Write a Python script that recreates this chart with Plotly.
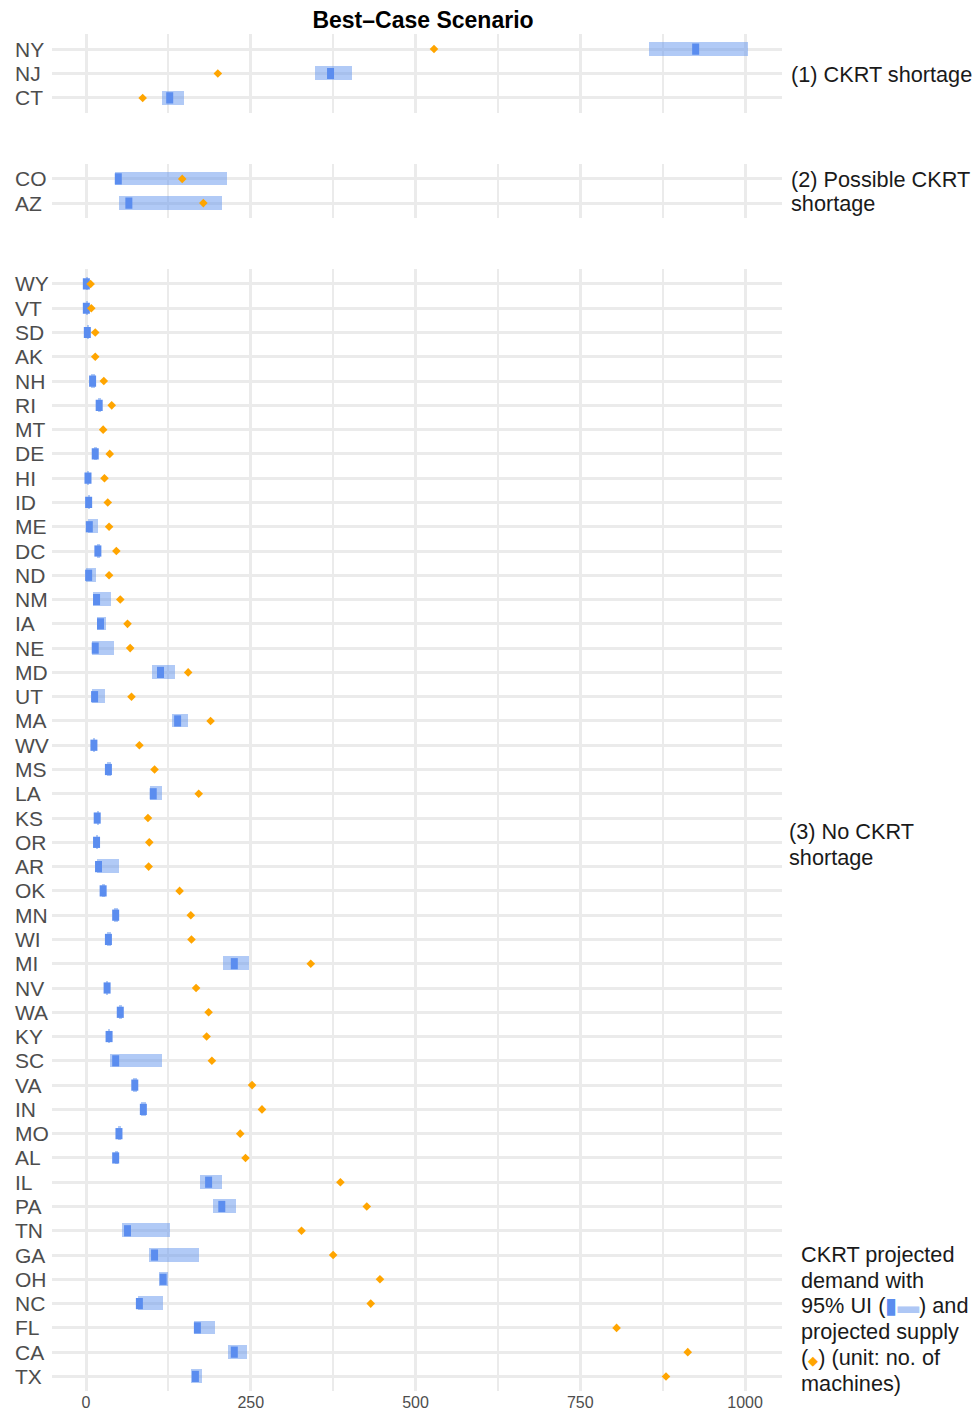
import plotly.graph_objects as go

# ---------------- data ----------------
p1_states = ["NY", "NJ", "CT"]
p1_median = [925, 371, 127]
p1_lower = [854, 347, 115]
p1_upper = [1005, 404, 149]
p1_supply = [528, 200, 86]

p2_states = ["CO", "AZ"]
p2_median = [49, 65]
p2_lower = [44, 50]
p2_upper = [214, 207]
p2_supply = [146, 178]

p3_states = ["WY", "VT", "SD", "AK", "NH", "RI", "MT", "DE", "HI", "ID", "ME", "DC",
             "ND", "NM", "IA", "NE", "MD", "UT", "MA", "WV", "MS", "LA", "KS", "OR",
             "AR", "OK", "MN", "WI", "MI", "NV", "WA", "KY", "SC", "VA", "IN", "MO",
             "AL", "IL", "PA", "TN", "GA", "OH", "NC", "FL", "CA", "TX"]
p3_median = [0.5, 0.5, 2, None, 10, 20, None, 14, 3, 4, 5, 18,
             4, 16, 22, 14, 113, 13, 139, 12, 34, 102, 17, 16,
             19, 26, 45, 34, 225, 32, 52, 35, 45, 74, 87, 50,
             45, 186, 206, 63, 104, 117, 81, 169, 225, 166]
p3_lower = [0, 0, 1, None, 8, 18, None, 12, 2, 3, 3, 16,
            0, 11, 17, 9, 100, 9, 131, 11, 32, 97, 16, 15,
            16, 25, 43, 32, 208, 31, 50, 33, 37, 71, 84, 48,
            44, 173, 193, 54, 96, 110, 79, 164, 216, 160]
p3_upper = [3, 3, 4, None, 13, 23, None, 17, 5, 6, 18, 21,
            15, 38, 30, 43, 135, 29, 154, 14, 38, 115, 19, 18,
            50, 29, 48, 38, 247, 34, 55, 37, 115, 78, 91, 53,
            48, 207, 227, 128, 171, 124, 117, 195, 245, 176]
p3_supply = [7, 8, 14, 14, 27, 39, 26, 36, 28, 33, 35, 46,
             35, 52, 63, 67, 155, 69, 189, 81, 104, 171, 94, 96,
             95, 142, 159, 160, 341, 167, 186, 183, 191, 252, 267, 234,
             242, 386, 426, 327, 375, 446, 432, 805, 913, 880]

x_ticks = [0, 250, 500, 750, 1000]
x_tick_labels = ["0", "250", "500", "750", "1000"]

title_text = "<b>Best–Case Scenario</b>"
panel_labels = ["(1) CKRT shortage", "(2) Possible CKRT", "shortage", "(3) No CKRT", "shortage"]
legend_lines = ["CKRT projected", "demand with",
                "95% UI (<span style='color:#5b8def'>▮</span><span style='color:#aec7f5'>▬</span>) and",
                "projected supply",
                "(<span style='color:#FFA500;font-size:13px'>◆</span>) (unit: no. of",
                "machines)"]

# ---------------- styling ----------------
FONT = "Liberation Sans, Arial, Helvetica, sans-serif"
BAND = "rgba(100,149,237,0.5)"
MED = "#5b8def"
SUP = "#FFA500"
GRID = "#ebebeb"

W, H = 976, 1412
L, T = 52, 34
R = W - 782
B = H - 1391
PW = W - L - R
PH = H - T - B


def py(px):
    """pixel y -> paper y"""
    return (H - B - px) / PH


def pxx(px):
    """pixel x -> paper x"""
    return (px - L) / PW


fig = go.Figure()

panels = [
    (p1_states, p1_median, p1_lower, p1_upper, p1_supply, "x", "y", (py(112.6), min(1.0, py(34.4)))),
    (p2_states, p2_median, p2_lower, p2_upper, p2_supply, "x2", "y2", (py(217.6), py(164.4))),
    (p3_states, p3_median, p3_lower, p3_upper, p3_supply, "x3", "y3", (0.0, py(269.4))),
]

annotations = []
for i, (st, med, lo, up, sup, xa, ya, dom) in enumerate(panels):
    widths = [None if (a is None or b is None) else b - a for a, b in zip(lo, up)]
    fig.add_trace(go.Bar(y=st, x=widths, base=lo, orientation="h", width=0.57,
                         marker=dict(color=BAND, line=dict(width=0)),
                         xaxis=xa, yaxis=ya, hoverinfo="skip"))
    fig.add_trace(go.Scatter(y=st, x=med, mode="markers",
                             marker=dict(symbol="line-ns", size=8, color=MED,
                                         line=dict(width=7, color=MED)),
                             xaxis=xa, yaxis=ya))
    fig.add_trace(go.Scatter(y=st, x=sup, mode="markers",
                             marker=dict(symbol="diamond", size=6.6, color=SUP,
                                         line=dict(width=0)),
                             xaxis=xa, yaxis=ya))
    n = len(st)
    suffix = "" if i == 0 else str(i + 1)
    fig.update_layout({
        "xaxis" + suffix: dict(domain=[0, 1], anchor=ya, range=[-51.6, 1056],
                               tickvals=x_ticks, ticktext=x_tick_labels,
                               showticklabels=(i == 2), showgrid=True,
                               gridcolor=GRID, gridwidth=2.5, zeroline=False,
                               showline=False, ticks="", automargin=False,
                               minor=dict(dtick=125, tick0=0, showgrid=True,
                                          gridcolor=GRID, gridwidth=2, ticks=""),
                               tickfont=dict(size=16, color="#4d4d4d", family=FONT),
                               matches=None if i == 0 else "x"),
        "yaxis" + suffix: dict(domain=list(dom), anchor=xa, type="category",
                               categoryorder="array", categoryarray=st,
                               range=[n - 0.4, -0.6], showticklabels=False,
                               showgrid=True, gridcolor=GRID, gridwidth=3,
                               zeroline=False, showline=False, ticks="",
                               automargin=False),
    })
    for s in st:
        annotations.append(dict(text=s, xref="paper", yref=ya, x=pxx(13), y=s,
                                xanchor="left", yanchor="middle", showarrow=False,
                                font=dict(size=21, color="#4d4d4d", family=FONT)))

label_pos = [(791, 74), (791, 180), (791, 204), (789, 831), (789, 857)]
for txt, (lx, ly) in zip(panel_labels, label_pos):
    annotations.append(dict(text=txt, xref="paper", yref="paper", x=pxx(lx - 2), y=py(ly),
                            xanchor="left", yanchor="middle", showarrow=False,
                            font=dict(size=21.7, color="#1a1a1a", family=FONT)))

leg_y = [1254, 1280, 1305, 1331, 1357, 1383]
for txt, ly in zip(legend_lines, leg_y):
    annotations.append(dict(text=txt, xref="paper", yref="paper", x=pxx(799), y=py(ly),
                            xanchor="left", yanchor="middle", showarrow=False,
                            font=dict(size=21.7, color="#1a1a1a", family=FONT)))

fig.update_layout(
    width=W, height=H,
    margin=dict(l=L, r=R, t=T, b=B, pad=0, autoexpand=False),
    plot_bgcolor="white", paper_bgcolor="white",
    showlegend=False, bargap=0,
    title=dict(text=title_text, xref="paper", x=pxx(423), xanchor="center",
               yref="container", y=1 - 20 / H, yanchor="middle",
               font=dict(size=23, color="black", family=FONT)),
    annotations=annotations,
    font=dict(family=FONT),
)

fig.write_html("out.html", config={"displayModeBar": False},
               post_script="document.body.style.margin='0';document.body.style.overflow='hidden';")
